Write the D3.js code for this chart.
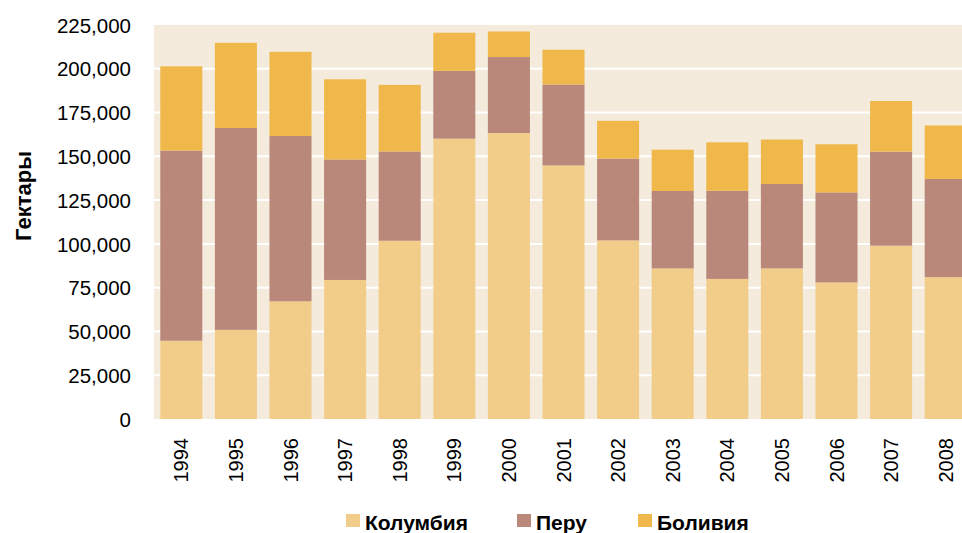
<!DOCTYPE html>
<html>
<head>
<meta charset="utf-8">
<script src="https://cdn.jsdelivr.net/npm/d3@7"></script>
<style>
  html, body { margin: 0; padding: 0; background: #ffffff; }
  svg { display: block; font-family: "Liberation Sans", Arial, sans-serif; }
</style>
</head>
<body>
<svg id="chart" width="962" height="533"></svg>
<script>
const years = ["1994","1995","1996","1997","1998","1999","2000","2001","2002","2003","2004","2005","2006","2007","2008"];
const colombia = [44700, 50900, 67200, 79400, 101800, 160100, 163300, 144800, 102000, 86000, 80000, 86000, 78000, 99000, 81000];
const peru     = [108600, 115300, 94400, 68800, 51000, 38700, 43400, 46200, 46700, 44200, 50300, 48200, 51400, 53700, 56100];
const bolivia  = [48100, 48600, 48100, 45800, 38000, 21800, 14600, 19900, 21600, 23600, 27700, 25400, 27500, 28900, 30500];
const seriesNames = ["Колумбия", "Перу", "Боливия"];
const seriesColors = ["#F2CD8A", "#B9887A", "#F0B84A"];
const yTicks = [0, 25000, 50000, 75000, 100000, 125000, 150000, 175000, 200000, 225000];
const yTitle = "Гектары";

const svg = d3.select("#chart");
const plot = { left: 154, top: 25, bottom: 419, right: 973 };

const x = d3.scaleBand().domain(years).range([plot.left, plot.right]).paddingInner(0.23).paddingOuter(0.115);
const y = d3.scaleLinear().domain([0, 225000]).range([plot.bottom, plot.top]);

const rows = years.map((yr, i) => ({ year: yr, c: colombia[i], p: peru[i], b: bolivia[i] }));
const stack = d3.stack().keys(["c", "p", "b"]);
const stacked = stack(rows);

// plot background
svg.append("rect")
  .attr("x", plot.left).attr("y", plot.top)
  .attr("width", 962 - plot.left).attr("height", plot.bottom - plot.top)
  .attr("fill", "#F4EBDC");

// gridlines
svg.append("g").selectAll("line")
  .data(yTicks.filter(t => t > 0 && t < 225000))
  .join("line")
  .attr("x1", plot.left).attr("x2", 962)
  .attr("y1", d => y(d)).attr("y2", d => y(d))
  .attr("stroke", "#ffffff").attr("stroke-width", 2);

// bars
svg.append("g").selectAll("g")
  .data(stacked)
  .join("g")
  .attr("fill", (d, i) => seriesColors[i])
  .selectAll("rect")
  .data(d => d)
  .join("rect")
  .attr("x", d => x(d.data.year))
  .attr("width", x.bandwidth())
  .attr("y", d => y(d[1]))
  .attr("height", d => y(d[0]) - y(d[1]));

// y axis
const yAxis = d3.axisLeft(y).tickValues(yTicks).tickSize(0).tickPadding(0)
  .tickFormat(d => d3.format(",")(d));
const gy = svg.append("g").attr("transform", "translate(131,0)").call(yAxis);
gy.select(".domain").remove();
gy.selectAll("text")
  .attr("font-size", "20.5px")
  .attr("font-family", "'Liberation Sans', Arial, sans-serif")
  .attr("fill", "#000")
  .attr("dy", "0.35em");

// x axis
const xAxis = d3.axisBottom(x).tickSize(0).tickPadding(0);
const gx = svg.append("g").attr("transform", `translate(0,${plot.bottom})`).call(xAxis);
gx.select(".domain").remove();
gx.selectAll("text")
  .attr("font-size", "20px")
  .attr("font-family", "'Liberation Sans', Arial, sans-serif")
  .attr("fill", "#000")
  .attr("text-anchor", "end")
  .attr("transform", "translate(0,19) rotate(-90)")
  .attr("x", 0).attr("y", 0)
  .attr("dy", "0.35em");

// y title
svg.append("text")
  .attr("transform", "translate(23,196) rotate(-90)")
  .attr("text-anchor", "middle")
  .attr("dy", "0.35em")
  .attr("font-size", "22px")
  .attr("font-weight", "bold")
  .attr("fill", "#000")
  .text(yTitle);

// legend
const legendX = [346, 517, 638];
const lg = svg.append("g");
seriesNames.forEach((name, i) => {
  lg.append("rect").attr("x", legendX[i]).attr("y", 514).attr("width", 14).attr("height", 13).attr("fill", seriesColors[i]);
  lg.append("text").attr("x", legendX[i] + 19).attr("y", 530)
    .attr("font-size", "21px").attr("font-weight", "bold").attr("fill", "#000").text(name);
});
</script>
</body>
</html>
